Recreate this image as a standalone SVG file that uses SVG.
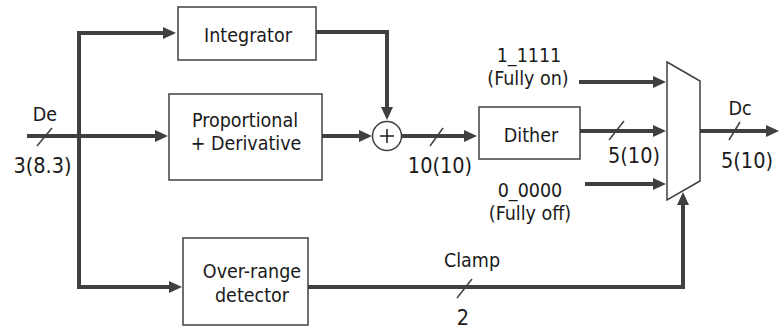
<svg xmlns="http://www.w3.org/2000/svg" width="779" height="330" viewBox="0 0 779 330">
<style>
.box{fill:#fff;stroke:#404040;stroke-width:1.5}
.wire{fill:none;stroke:#404040;stroke-width:4;stroke-linejoin:miter}
.tick{stroke:#404040;stroke-width:1.5;fill:none}
text{font-family:"DejaVu Sans Condensed","DejaVu Sans","Liberation Sans",sans-serif;font-size:19.5px;fill:#1a1a1a;text-anchor:middle}
.num{font-size:21.5px}
</style>
<defs>
<marker id="arr" viewBox="0 0 13 12" refX="1" refY="6" markerWidth="13" markerHeight="12" markerUnits="userSpaceOnUse" orient="auto">
<path d="M0,0 L13,6 L0,12 z" fill="#404040"/>
</marker>
</defs>
<g id="connectors">
<path class="wire" d="M27,136 H156" marker-end="url(#arr)"/>
<path class="wire" d="M79,136 V33 H164" marker-end="url(#arr)"/>
<path class="wire" d="M79,134 V287 H170" marker-end="url(#arr)"/>
<path class="wire" d="M316,32 H387 V108" marker-end="url(#arr)"/>
<path class="wire" d="M322,136 H360" marker-end="url(#arr)"/>
<path class="wire" d="M401.5,136 H465" marker-end="url(#arr)"/>
<path class="wire" d="M580,131 H654" marker-end="url(#arr)"/>
<path class="wire" d="M579,82 H654" marker-end="url(#arr)"/>
<path class="wire" d="M585,184 H654" marker-end="url(#arr)"/>
<path class="wire" d="M700,131 H767" marker-end="url(#arr)"/>
<path class="wire" d="M308,287 H683 V204" marker-end="url(#arr)"/>
<line class="tick" x1="37" y1="146" x2="52" y2="128"/>
<line class="tick" x1="430" y1="146" x2="443" y2="128"/>
<line class="tick" x1="609" y1="140" x2="624" y2="121"/>
<line class="tick" x1="729" y1="140" x2="740" y2="122"/>
<line class="tick" x1="457" y1="298" x2="472" y2="279"/>
</g>
<g id="integrator">
<rect class="box" x="178" y="7" width="138" height="53"/>
<text x="248" y="41.5">Integrator</text>
</g>
<g id="prop-deriv">
<rect class="box" x="169" y="94" width="153" height="86"/>
<text x="245" y="126.5">Proportional</text>
<text x="246" y="150">+ Derivative</text>
</g>
<g id="sum">
<circle cx="387" cy="136" r="14.5" fill="#fff" stroke="#404040" stroke-width="1.5"/>
<path d="M380,136 H394 M387,129 V143" stroke="#1a1a1a" stroke-width="1.5"/>
</g>
<g id="dither">
<rect class="box" x="479" y="107" width="101" height="52"/>
<text x="531" y="142">Dither</text>
</g>
<g id="over-range">
<rect class="box" x="183" y="238" width="125" height="87"/>
<text x="252" y="278">Over-range</text>
<text x="252" y="302">detector</text>
</g>
<g id="mux">
<polygon class="box" points="667,62 700,81 700,181 667,200"/>
</g>
<g id="labels">
<text x="45" y="121">De</text>
<text class="num" x="42.5" y="173">3(8.3)</text>
<text class="num" x="440" y="173">10(10)</text>
<text x="529" y="62">1_1111</text>
<text x="528" y="85">(Fully on)</text>
<text x="530" y="197">0_0000</text>
<text x="530" y="220">(Fully off)</text>
<text class="num" x="634" y="163">5(10)</text>
<text x="740" y="115">Dc</text>
<text class="num" x="747" y="168">5(10)</text>
<text x="472" y="267">Clamp</text>
<text class="num" x="463" y="325">2</text>
</g>
</svg>
